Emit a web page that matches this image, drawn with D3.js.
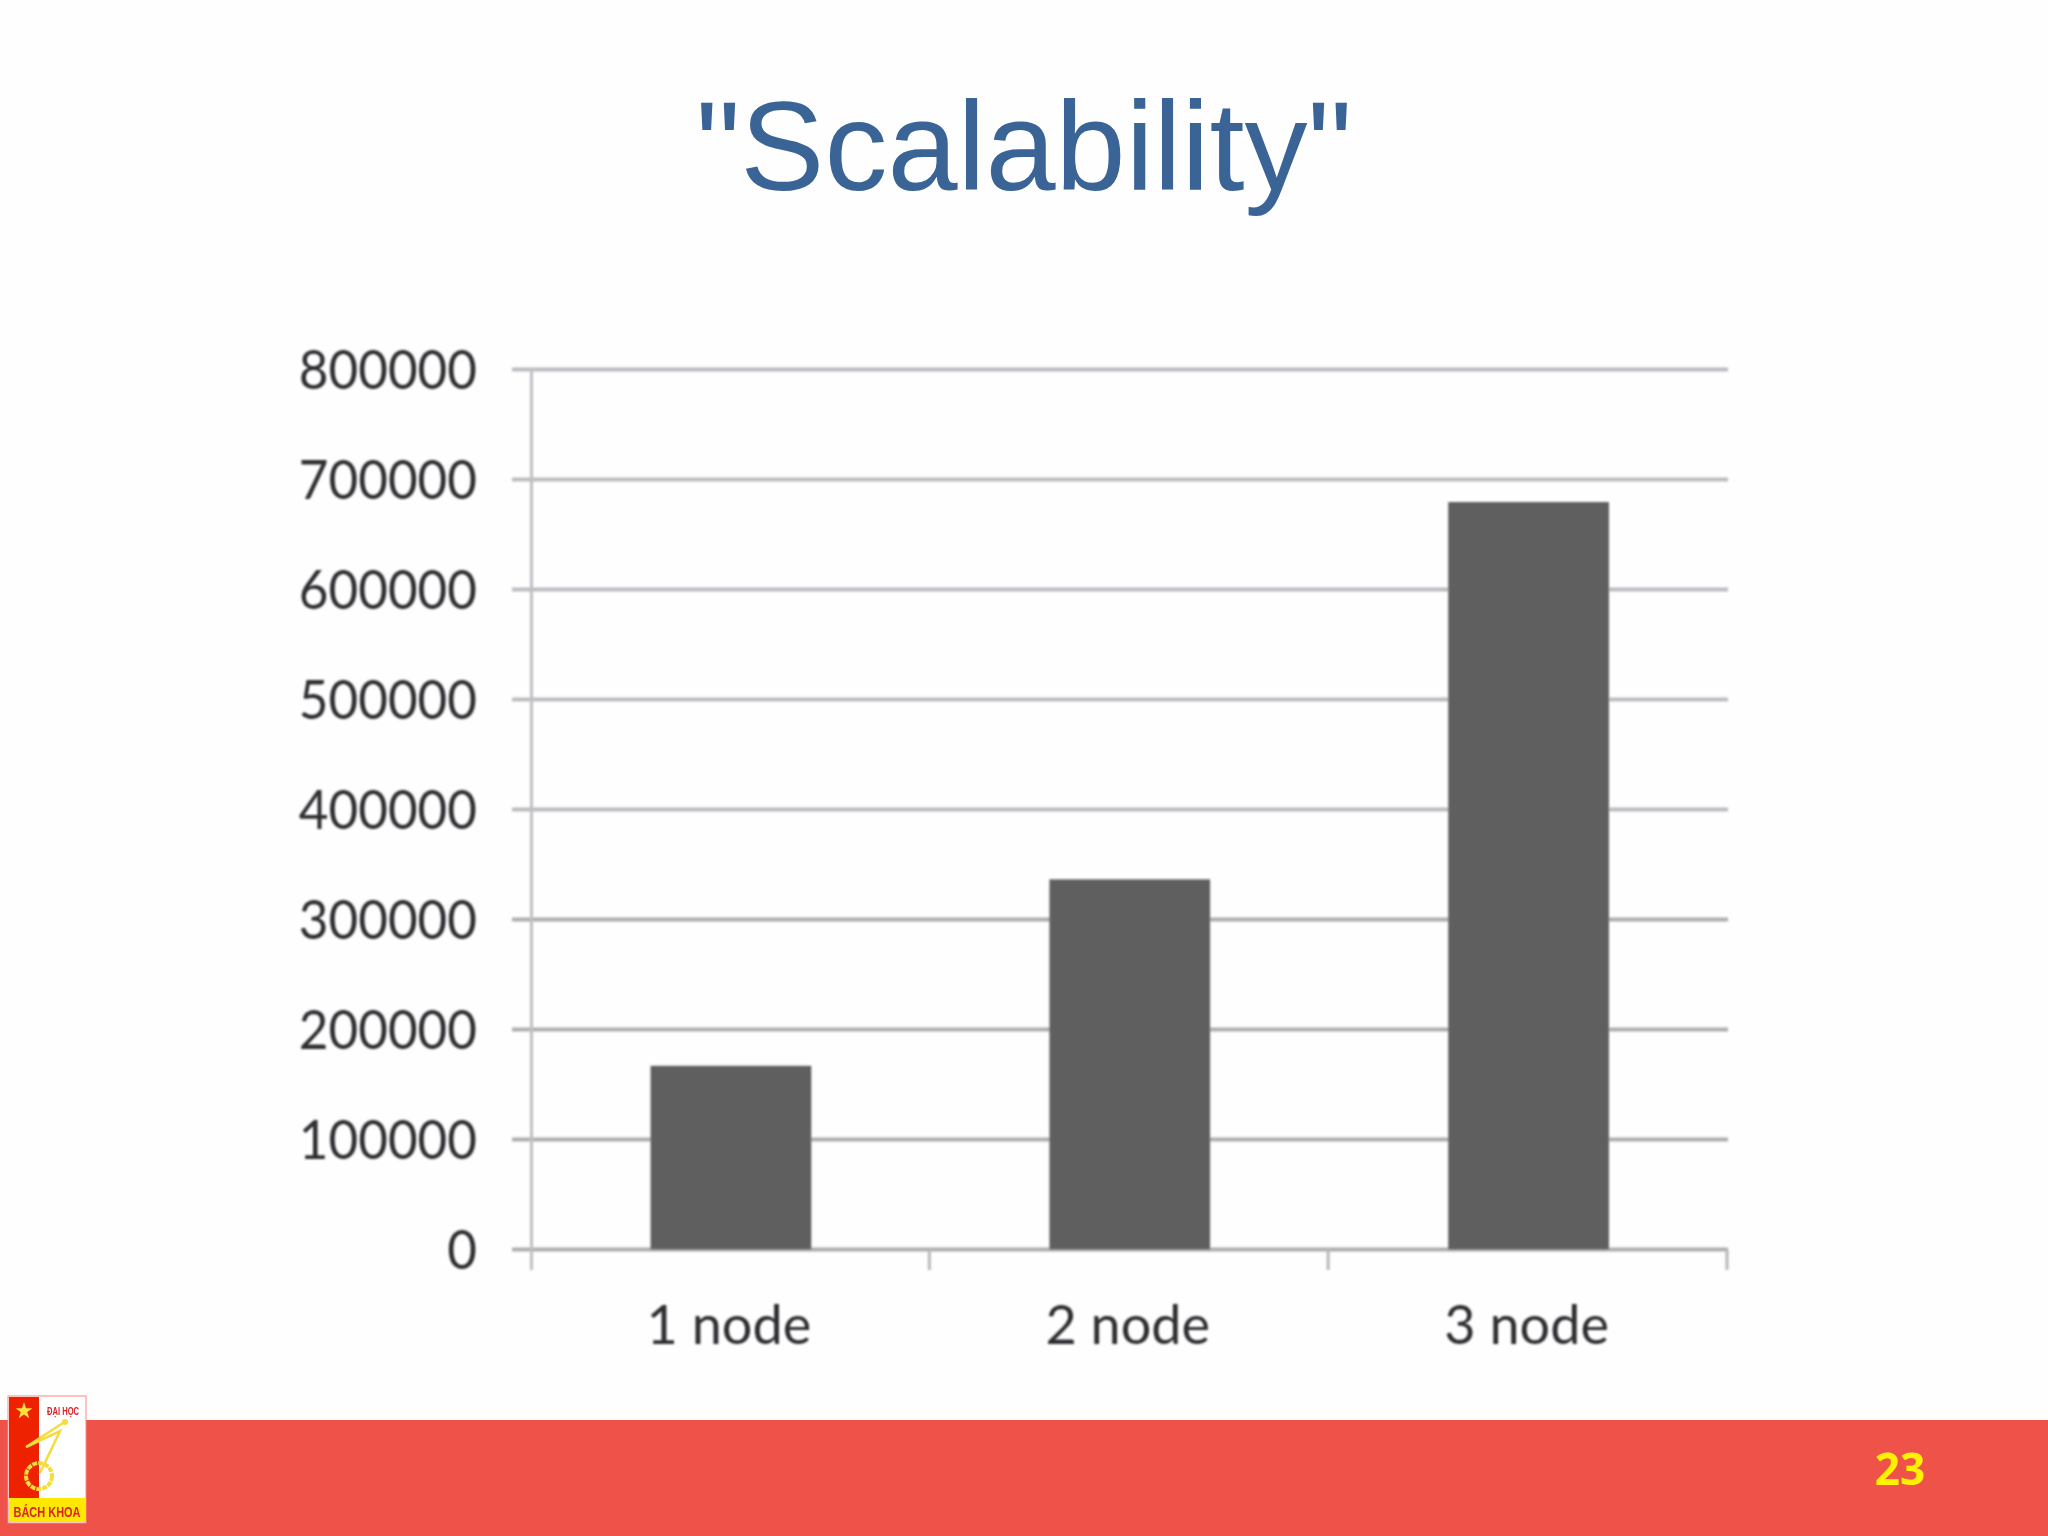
<!DOCTYPE html>
<html><head><meta charset="utf-8">
<script src="https://cdn.jsdelivr.net/npm/d3@7/dist/d3.min.js"></script>
<style>html,body{margin:0;padding:0;background:#fefefe}svg{display:block}</style>
</head><body><svg id="c" width="2048" height="1536"></svg>
<script>
const categories = ["1 node", "2 node", "3 node"];
const values = [167000, 336500, 679500];
const yTicks = [0, 100000, 200000, 300000, 400000, 500000, 600000, 700000, 800000];
const titleText = '"Scalability"';
const pageNumber = "23";

const svg = d3.select("#c");
const defs = svg.append("defs");
defs.append("filter").attr("id","blur").attr("x","-5%").attr("y","-5%").attr("width","110%").attr("height","110%")
  .append("feGaussianBlur").attr("stdDeviation",1.2);
defs.append("filter").attr("id","blur2").attr("x","-5%").attr("y","-5%").attr("width","110%").attr("height","110%")
  .append("feGaussianBlur").attr("stdDeviation",0.5);

svg.append("rect").attr("width",2048).attr("height",1536).attr("fill","#fefefe");
svg.append("text").attr("x",1024).attr("y",190).attr("text-anchor","middle")
  .attr("font-family","Liberation Sans").attr("font-size",126).attr("fill","#3a6496").text(titleText);

const x = d3.scaleBand().domain(categories).range([531.5,1728]).paddingInner(0.597).paddingOuter(0.2985);
const xEdge = d3.scaleLinear().domain([0,categories.length]).range([531.5,1728]);
const y = d3.scaleLinear().domain([0,800000]).range([1249.5,369.5]);

const g = svg.append("g").attr("filter","url(#blur)");
const gridCol = d => d>300000 ? "#bdbbc0" : "#aeadb0";

g.append("g").selectAll("line").data(yTicks).join("line")
  .attr("x1",512).attr("x2",1728).attr("y1",d=>y(d)).attr("y2",d=>y(d))
  .attr("stroke",gridCol).attr("stroke-width",4);
g.append("line").attr("x1",531.5).attr("x2",531.5).attr("y1",369).attr("y2",1270)
  .attr("stroke","#c0bfc2").attr("stroke-width",3);
g.append("g").selectAll("line").data(d3.range(1,categories.length+1)).join("line")
  .attr("x1",d=>xEdge(d)-1).attr("x2",d=>xEdge(d)-1).attr("y1",1249).attr("y2",1270)
  .attr("stroke","#b8b7ba").attr("stroke-width",3);
g.append("g").selectAll("rect").data(values).join("rect")
  .attr("x",(d,i)=>x(categories[i])).attr("width",x.bandwidth())
  .attr("y",d=>y(d)).attr("height",d=>y(0)-y(d)).attr("fill","#605f61");
const labFont = "Lato", labSize = 54, labFill = "#2e2e30";
g.append("g").selectAll("text").data(yTicks).join("text")
  .attr("x",477).attr("y",d=>y(d)+19).attr("text-anchor","end")
  .attr("font-family",labFont).attr("font-size",labSize).attr("fill",labFill)
  .attr("textLength",d=>String(d).length*29.7).attr("lengthAdjust","spacingAndGlyphs")
  .text(d=>String(d));
g.append("g").selectAll("text").data(categories).join("text")
  .attr("x",d=>x(d)+x.bandwidth()/2-2).attr("y",1344).attr("text-anchor","middle")
  .attr("font-family",labFont).attr("font-size",labSize).attr("fill",labFill)
  .text(d=>d);

svg.append("rect").attr("x",0).attr("y",1420).attr("width",2048).attr("height",116).attr("fill","#ef5249");
svg.append("text").attr("x",1900).attr("y",1485).attr("text-anchor","middle")
  .attr("font-family","Open Sans").attr("font-weight",700).attr("font-size",44).attr("fill","#fff200").text(pageNumber);

// logo
const l = svg.append("g").attr("filter","url(#blur2)");
l.append("rect").attr("x",8).attr("y",1396).attr("width",78).attr("height",127).attr("fill","#fff").attr("stroke","#f58a80").attr("stroke-width",1);
l.append("rect").attr("x",9).attr("y",1397).attr("width",30).attr("height",101).attr("fill","#ee2200");
l.append("rect").attr("x",9).attr("y",1498).attr("width",76).attr("height",24).attr("fill","#ffe800");
l.append("path").attr("d",d3.symbol(d3.symbolStar,90)()).attr("transform","translate(24,1411)").attr("fill","#ffe23a");
l.append("text").attr("x",63).attr("y",1415).attr("text-anchor","middle").attr("font-family","Liberation Sans").attr("font-weight",700).attr("font-size",10).attr("fill","#d8232a").attr("textLength",32).attr("lengthAdjust","spacingAndGlyphs").text("ĐẠI HỌC");
l.append("text").attr("x",47).attr("y",1517).attr("text-anchor","middle").attr("font-family","Liberation Sans").attr("font-weight",700).attr("font-size",15).attr("fill","#d8232a").attr("textLength",67).attr("lengthAdjust","spacingAndGlyphs").text("BÁCH KHOA");
l.append("circle").attr("cx",39).attr("cy",1476).attr("r",13).attr("fill","none").attr("stroke","#f5dc3c").attr("stroke-width",4).attr("stroke-dasharray","5 1");
l.append("path").attr("d","M66,1421 L26,1447 L60,1431 L40,1473").attr("fill","none").attr("stroke","#f5dc3c").attr("stroke-width",2.5);
l.append("circle").attr("cx",65).attr("cy",1422).attr("r",3).attr("fill","#f5dc3c");
</script></body></html>
